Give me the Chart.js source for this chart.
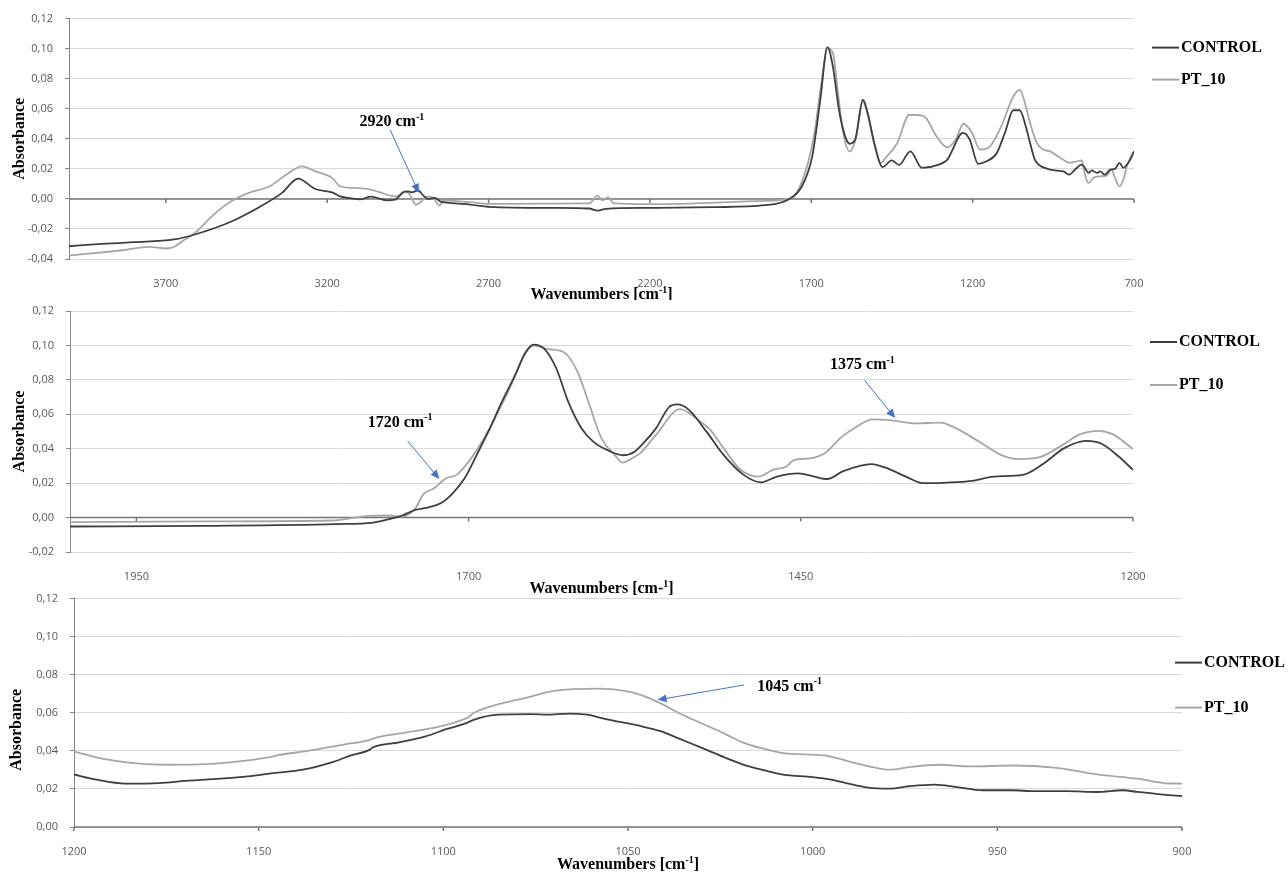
<!DOCTYPE html>
<html>
<head>
<meta charset="utf-8">
<title>FTIR spectra - CONTROL vs PT_10</title>
<script src="https://cdn.jsdelivr.net/npm/chart.js@4.4.1/dist/chart.umd.min.js"></script>
<style>
  html, body { margin: 0; padding: 0; background: #fff; }
  #page { position: relative; width: 1288px; height: 872px; overflow: hidden; }
  canvas { position: absolute; left: 0; }
</style>
</head>
<body>
<div id="page">
  <canvas id="fullChart" width="1288" height="300" style="top:0px"></canvas>
  <canvas id="carbonylChart" width="1288" height="305" style="top:290px"></canvas>
  <canvas id="fingerprintChart" width="1288" height="292" style="top:580px"></canvas>
</div>
<script>
// Series names
const seriesNames = ['CONTROL', 'PT_10'];

// Panel 1: full spectrum 4000-700 cm-1
const fullTicksX = [3700, 3200, 2700, 2200, 1700, 1200, 700];
const fullTicksY = [-0.04, -0.02, 0, 0.02, 0.04, 0.06, 0.08, 0.10, 0.12];
const fullControlX = [4000, 3900, 3800, 3675, 3610, 3495, 3391, 3340, 3290, 3237, 3185, 3160, 3134, 3098, 3064, 3046, 3015, 2990, 2964, 2949, 2938, 2918, 2902, 2887, 2866, 2850, 2819, 2757, 2696, 2500, 2388, 2362, 2336, 2200, 2000, 1845, 1768, 1729, 1697, 1672, 1650, 1633, 1614, 1595, 1581, 1564, 1540, 1525, 1505, 1479, 1451, 1428, 1393, 1357, 1305, 1279, 1230, 1209, 1183, 1157, 1125, 1100, 1074, 1054, 1035, 1022, 1007, 991, 976, 960, 939, 919, 900, 888, 862, 852, 841, 831, 815, 805, 790, 774, 759, 745, 733, 722, 712, 700];
const fullControlY = [-0.0315, -0.0300, -0.0288, -0.0270, -0.0237, -0.0149, -0.0031, 0.0040, 0.0135, 0.0066, 0.0044, 0.0017, 0.0007, -0.0003, 0.0015, 0.0007, -0.0010, -0.0005, 0.0044, 0.0050, 0.0044, 0.0057, 0.0022, 0.0000, 0.0007, -0.0016, -0.0027, -0.0038, -0.0053, -0.0060, -0.0064, -0.0078, -0.0066, -0.0060, -0.0055, -0.0042, 0.0000, 0.0084, 0.0283, 0.0660, 0.1010, 0.0880, 0.0590, 0.0416, 0.0367, 0.0394, 0.0660, 0.0570, 0.0372, 0.0212, 0.0256, 0.0226, 0.0316, 0.0206, 0.0228, 0.0260, 0.0439, 0.0394, 0.0233, 0.0250, 0.0306, 0.0440, 0.0590, 0.0590, 0.0480, 0.0372, 0.0260, 0.0221, 0.0206, 0.0195, 0.0188, 0.0183, 0.0161, 0.0183, 0.0228, 0.0206, 0.0173, 0.0190, 0.0173, 0.0183, 0.0161, 0.0195, 0.0200, 0.0240, 0.0206, 0.0228, 0.0260, 0.0316];
const fullPtX = [4000, 3892, 3828, 3752, 3700, 3675, 3648, 3610, 3546, 3495, 3443, 3378, 3327, 3278, 3237, 3185, 3160, 3120, 3078, 3037, 3005, 2985, 2960, 2944, 2925, 2907, 2892, 2871, 2852, 2840, 2757, 2696, 2388, 2362, 2347, 2330, 2311, 2198, 1845, 1761, 1735, 1710, 1690, 1666, 1650, 1633, 1617, 1601, 1581, 1563, 1540, 1525, 1505, 1485, 1466, 1434, 1396, 1357, 1344, 1312, 1279, 1253, 1228, 1202, 1177, 1151, 1112, 1074, 1054, 1035, 1022, 1001, 981, 960, 939, 919, 898, 877, 862, 852, 841, 826, 805, 785, 769, 759, 745, 733, 722, 712, 700];
const fullPtY = [-0.0377, -0.0355, -0.0340, -0.0319, -0.0330, -0.0320, -0.0280, -0.0226, -0.0093, -0.0013, 0.0040, 0.0084, 0.0161, 0.0217, 0.0183, 0.0140, 0.0084, 0.0073, 0.0066, 0.0044, 0.0022, 0.0017, 0.0050, 0.0029, -0.0038, -0.0016, 0.0017, 0.0007, -0.0045, -0.0010, -0.0022, -0.0033, -0.0030, 0.0022, -0.0010, 0.0010, -0.0030, -0.0035, -0.0013, 0.0005, 0.0084, 0.0240, 0.0440, 0.0815, 0.1003, 0.0970, 0.0704, 0.0439, 0.0316, 0.0394, 0.0649, 0.0560, 0.0372, 0.0240, 0.0283, 0.0370, 0.0560, 0.0554, 0.0538, 0.0416, 0.0343, 0.0394, 0.0500, 0.0440, 0.0328, 0.0340, 0.0480, 0.0682, 0.0726, 0.0615, 0.0505, 0.0372, 0.0328, 0.0316, 0.0288, 0.0260, 0.0240, 0.0250, 0.0256, 0.0161, 0.0106, 0.0140, 0.0150, 0.0155, 0.0195, 0.0140, 0.0084, 0.0128, 0.0217, 0.0272, 0.0316];

// Panel 2: 2000-1200 cm-1
const carbonylTicksX = [1950, 1700, 1450, 1200];
const carbonylTicksY = [-0.02, 0, 0.02, 0.04, 0.06, 0.08, 0.10, 0.12];
const carbonylControlX = [2000, 1900, 1800, 1772, 1759, 1750, 1740, 1731, 1721, 1712, 1703, 1694, 1684, 1675, 1665, 1657, 1651, 1643, 1634, 1625, 1615, 1606, 1593, 1584, 1575, 1571, 1559, 1549, 1543, 1534, 1521, 1508, 1493, 1480, 1468, 1452, 1440, 1430, 1418, 1397, 1383, 1371, 1358, 1337, 1321, 1305, 1283, 1268, 1252, 1235, 1224, 1211, 1200];
const carbonylControlY = [-0.0052, -0.0048, -0.0038, -0.0029, -0.0008, 0.0012, 0.0045, 0.0058, 0.0083, 0.0141, 0.0228, 0.0363, 0.0518, 0.0672, 0.0827, 0.0962, 0.1005, 0.0980, 0.0866, 0.0672, 0.0518, 0.0440, 0.0383, 0.0362, 0.0383, 0.0412, 0.0518, 0.0643, 0.0657, 0.0624, 0.0499, 0.0363, 0.0248, 0.0205, 0.0238, 0.0257, 0.0238, 0.0224, 0.0270, 0.0311, 0.0280, 0.0238, 0.0200, 0.0205, 0.0213, 0.0238, 0.0248, 0.0310, 0.0402, 0.0445, 0.0430, 0.0356, 0.0277];
const carbonylPtX = [2000, 1900, 1803, 1775, 1759, 1750, 1740, 1734, 1726, 1717, 1709, 1699, 1690, 1679, 1668, 1659, 1651, 1640, 1628, 1618, 1609, 1600, 1590, 1584, 1575, 1571, 1559, 1541, 1527, 1518, 1508, 1496, 1482, 1471, 1461, 1455, 1443, 1432, 1419, 1408, 1396, 1383, 1364, 1345, 1333, 1315, 1299, 1286, 1271, 1255, 1240, 1226, 1215, 1200];
const carbonylPtY = [-0.0027, -0.0022, -0.0017, 0.0010, 0.0012, 0.0006, 0.0054, 0.0136, 0.0170, 0.0228, 0.0248, 0.0335, 0.0440, 0.0595, 0.0769, 0.0933, 0.1001, 0.0978, 0.0959, 0.0846, 0.0653, 0.0460, 0.0363, 0.0319, 0.0354, 0.0373, 0.0480, 0.0630, 0.0566, 0.0508, 0.0402, 0.0282, 0.0238, 0.0277, 0.0296, 0.0335, 0.0344, 0.0373, 0.0470, 0.0528, 0.0570, 0.0566, 0.0547, 0.0552, 0.0518, 0.0437, 0.0363, 0.0340, 0.0349, 0.0412, 0.0483, 0.0504, 0.0483, 0.0398];

// Panel 3: 1200-900 cm-1
const fingerTicksX = [1200, 1150, 1100, 1050, 1000, 950, 900];
const fingerTicksY = [0, 0.02, 0.04, 0.06, 0.08, 0.10, 0.12];
const fingerControlX = [1200, 1194, 1186, 1177, 1170, 1153, 1146, 1138, 1130, 1125, 1120, 1119, 1112, 1105, 1099, 1094, 1092, 1085, 1076, 1072, 1066, 1061, 1056, 1047, 1041, 1036, 1030, 1024, 1019, 1013, 1008, 1000, 995, 991, 985, 979, 974, 967, 961, 954, 946, 940, 931, 923, 916, 912, 905, 900];
const fingerControlY = [0.0276, 0.0249, 0.0228, 0.0231, 0.0242, 0.0266, 0.0283, 0.0301, 0.0341, 0.0376, 0.0405, 0.0419, 0.0445, 0.0475, 0.0515, 0.0544, 0.0562, 0.0590, 0.0593, 0.0590, 0.0596, 0.0590, 0.0567, 0.0532, 0.0502, 0.0463, 0.0416, 0.0367, 0.0329, 0.0297, 0.0275, 0.0262, 0.0249, 0.0231, 0.0207, 0.0202, 0.0214, 0.0223, 0.0210, 0.0193, 0.0193, 0.0188, 0.0188, 0.0184, 0.0193, 0.0184, 0.0170, 0.0162];
const fingerPtX = [1200, 1192, 1184, 1175, 1164, 1153, 1147, 1145, 1136, 1127, 1120, 1118, 1110, 1102, 1096, 1093, 1092, 1085, 1078, 1070, 1058, 1051, 1047, 1041, 1036, 1030, 1024, 1019, 1013, 1008, 997, 994, 987, 979, 974, 966, 957, 946, 934, 923, 912, 905, 900];
const fingerPtY = [0.0396, 0.0358, 0.0336, 0.0327, 0.0330, 0.0350, 0.0367, 0.0376, 0.0402, 0.0433, 0.0457, 0.0471, 0.0497, 0.0523, 0.0555, 0.0579, 0.0596, 0.0645, 0.0677, 0.0715, 0.0727, 0.0715, 0.0697, 0.0648, 0.0596, 0.0544, 0.0492, 0.0445, 0.0410, 0.0388, 0.0376, 0.0364, 0.0329, 0.0301, 0.0315, 0.0327, 0.0318, 0.0323, 0.0311, 0.0276, 0.0254, 0.0231, 0.0228];

// Styles
const controlColor = '#3f3f3f';
const ptColor = '#a6a6a6';
const arrowColor = '#4472c4';
const serifFont = "'Liberation Serif', 'Times New Roman', serif";
const tickFont = { family: "'Open Sans', sans-serif", size: 11 };

// Zip two arrays into {x, y} points
function toPoints(xs, ys) {
    return xs.map((x, i) => ({ x: x, y: ys[i] }));
}

// Draw text made of normal and superscript parts
function drawRichText(ctx, parts, x, y, align) {
    ctx.save();
    ctx.textBaseline = 'middle';
    ctx.textAlign = 'left';
    ctx.fillStyle = '#000';
    const widths = parts.map(p => {
        ctx.font = p.sup ? `bold 10px ${serifFont}` : `bold 16px ${serifFont}`;
        return ctx.measureText(p.text).width;
    });
    const total = widths.reduce((a, b) => a + b, 0);
    let cx = align === 'center' ? x - total / 2 : x;
    parts.forEach((p, i) => {
        ctx.font = p.sup ? `bold 10px ${serifFont}` : `bold 16px ${serifFont}`;
        ctx.fillText(p.text, cx, p.sup ? y - 5 : y);
        cx += widths[i];
    });
    ctx.restore();
}

// Axis at zero, titles, legend and arrows
const decorPlugin = {
    id: 'decor',
    beforeDatasetsDraw(chart) {
        const { ctx, chartArea, scales } = chart;
        const y0 = scales.y.getPixelForValue(0);
        ctx.save();
        ctx.strokeStyle = '#767676';
        ctx.lineWidth = 1.5;
        ctx.beginPath();
        ctx.moveTo(chartArea.left, y0);
        ctx.lineTo(chartArea.right, y0);
        scales.x.ticks.forEach(t => {
            const px = scales.x.getPixelForValue(t.value);
            ctx.moveTo(px, y0);
            ctx.lineTo(px, y0 + 4);
        });
        ctx.stroke();
        ctx.restore();
    },
    afterDraw(chart, args, opts) {
        const { ctx, chartArea, scales } = chart;

        // axis titles
        drawRichText(ctx, opts.title, (chartArea.left + chartArea.right) / 2, chartArea.bottom + opts.titleOffset, 'center');
        ctx.save();
        ctx.translate(chartArea.left - opts.yTitle.dx, (chartArea.top + chartArea.bottom) / 2 + opts.yTitle.dy);
        ctx.rotate(-Math.PI / 2);
        ctx.font = `bold 16px ${serifFont}`;
        ctx.fillStyle = '#000';
        ctx.textAlign = 'center';
        ctx.textBaseline = 'middle';
        ctx.fillText('Absorbance', 0, 0);
        ctx.restore();

        // legend
        chart.data.datasets.forEach((ds, i) => {
            const lx = chartArea.right + opts.legend.dx;
            const ly = chartArea.top + opts.legend.dy[i];
            ctx.save();
            ctx.strokeStyle = ds.borderColor;
            ctx.lineWidth = 2;
            ctx.beginPath();
            ctx.moveTo(lx, ly);
            ctx.lineTo(lx + 27, ly);
            ctx.stroke();
            ctx.restore();
            drawRichText(ctx, [{ text: ds.label }], lx + 29, ly, 'left');
        });

        // annotations with arrows
        opts.notes.forEach(n => {
            const tx = scales.x.getPixelForValue(n.tail[0]);
            const ty = scales.y.getPixelForValue(n.tail[1]);
            const hx = scales.x.getPixelForValue(n.tip[0]);
            const hy = scales.y.getPixelForValue(n.tip[1]);
            const ang = Math.atan2(hy - ty, hx - tx);
            ctx.save();
            ctx.strokeStyle = arrowColor;
            ctx.fillStyle = arrowColor;
            ctx.lineWidth = 1;
            ctx.beginPath();
            ctx.moveTo(tx, ty);
            ctx.lineTo(hx - 8 * Math.cos(ang), hy - 8 * Math.sin(ang));
            ctx.stroke();
            ctx.beginPath();
            ctx.moveTo(hx, hy);
            ctx.lineTo(hx - 9 * Math.cos(ang) + 4 * Math.sin(ang), hy - 9 * Math.sin(ang) - 4 * Math.cos(ang));
            ctx.lineTo(hx - 9 * Math.cos(ang) - 4 * Math.sin(ang), hy - 9 * Math.sin(ang) + 4 * Math.cos(ang));
            ctx.closePath();
            ctx.fill();
            ctx.restore();
            drawRichText(ctx, n.parts, scales.x.getPixelForValue(n.label[0]), scales.y.getPixelForValue(n.label[1]), 'left');
        });
    }
};

// Build one spectrum panel
function makeSpectrumChart(canvasId, cfg) {
    const ctx = document.getElementById(canvasId).getContext('2d');
    return new Chart(ctx, {
        type: 'line',
        data: {
            datasets: [
                { label: seriesNames[0], data: toPoints(cfg.controlX, cfg.controlY), borderColor: controlColor, borderWidth: 1.8 },
                { label: seriesNames[1], data: toPoints(cfg.ptX, cfg.ptY), borderColor: ptColor, borderWidth: 1.8 }
            ]
        },
        options: {
            responsive: false,
            animation: false,
            elements: {
                point: { radius: 0 },
                line: { cubicInterpolationMode: 'monotone', fill: false }
            },
            layout: { padding: { top: cfg.box.top, right: cfg.box.right, left: 0, bottom: 0 } },
            plugins: {
                legend: { display: false },
                tooltip: { enabled: false },
                decor: { title: cfg.title, titleOffset: cfg.titleOffset, yTitle: cfg.yTitle, legend: cfg.legend, notes: cfg.notes }
            },
            scales: {
                x: {
                    type: 'linear',
                    reverse: true,
                    min: cfg.xMin,
                    max: cfg.xMax,
                    afterBuildTicks: s => { s.ticks = cfg.ticksX.map(v => ({ value: v })); },
                    afterFit: s => { s.height = cfg.box.xHeight; },
                    grid: { display: false },
                    border: { display: false },
                    ticks: { font: tickFont, color: '#595959', padding: 10, maxRotation: 0, autoSkip: false, callback: v => String(v) }
                },
                y: {
                    min: cfg.ticksY[0],
                    max: cfg.ticksY[cfg.ticksY.length - 1],
                    afterBuildTicks: s => { s.ticks = cfg.ticksY.map(v => ({ value: v })); },
                    afterFit: s => { s.width = cfg.box.left; },
                    grid: { color: '#d9d9d9', tickColor: '#868686', tickLength: 4, lineWidth: 1 },
                    border: { display: true, color: '#868686' },
                    ticks: { font: tickFont, color: '#595959', padding: 12, callback: v => v.toFixed(2).replace('.', ',') }
                }
            }
        },
        plugins: [decorPlugin]
    });
}

document.addEventListener('DOMContentLoaded', function() {
    makeSpectrumChart('fullChart', {
        controlX: fullControlX, controlY: fullControlY, ptX: fullPtX, ptY: fullPtY,
        xMin: 700, xMax: 4000, ticksX: fullTicksX, ticksY: fullTicksY,
        box: { top: 18, right: 154, left: 69, xHeight: 41 },
        yTitle: { dx: 49, dy: 0 },
        title: [{ text: 'Wavenumbers [cm' }, { text: '-1', sup: true }, { text: ']' }],
        titleOffset: 36,
        legend: { dx: 18, dy: [29, 61] },
        notes: [
            { parts: [{ text: '2920 cm' }, { text: '-1', sup: true }], label: [3100, 0.051], tail: [3005, 0.046], tip: [2916, 0.004] }
        ]
    });

    makeSpectrumChart('carbonylChart', {
        controlX: carbonylControlX, controlY: carbonylControlY, ptX: carbonylPtX, ptY: carbonylPtY,
        xMin: 1200, xMax: 2000, ticksX: carbonylTicksX, ticksY: carbonylTicksY,
        box: { top: 21, right: 155, left: 70, xHeight: 43 },
        yTitle: { dx: 50, dy: 0 },
        title: [{ text: 'Wavenumbers [cm-' }, { text: '1', sup: true }, { text: ']' }],
        titleOffset: 37,
        legend: { dx: 17, dy: [31, 74] },
        notes: [
            { parts: [{ text: '1720 cm' }, { text: '-1', sup: true }], label: [1776, 0.055], tail: [1746, 0.0445], tip: [1722, 0.0224] },
            { parts: [{ text: '1375 cm' }, { text: '-1', sup: true }], label: [1428, 0.0885], tail: [1402, 0.0798], tip: [1379, 0.0578] }
        ]
    });

    makeSpectrumChart('fingerprintChart', {
        controlX: fingerControlX, controlY: fingerControlY, ptX: fingerPtX, ptY: fingerPtY,
        xMin: 900, xMax: 1200, ticksX: fingerTicksX, ticksY: fingerTicksY,
        box: { top: 17, right: 106, left: 74, xHeight: 45 },
        yTitle: { dx: 57, dy: 17 },
        title: [{ text: 'Wavenumbers [cm' }, { text: '-1', sup: true }, { text: ']' }],
        titleOffset: 38,
        legend: { dx: -7, dy: [64, 109] },
        notes: [
            { parts: [{ text: '1045 cm' }, { text: '-1', sup: true }], label: [1015, 0.0736], tail: [1018.6, 0.0746], tip: [1042, 0.0668] }
        ]
    });
});
</script>
</body>
</html>
